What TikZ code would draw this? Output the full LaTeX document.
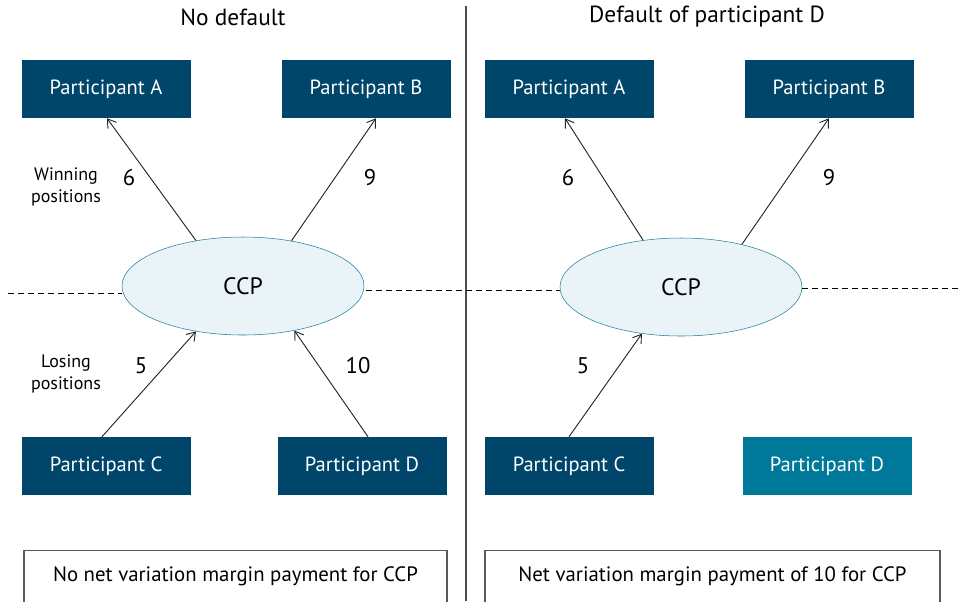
\documentclass[tikz,border=0pt]{standalone}
\usepackage{fontspec}
\setmainfont{PT Sans}
\usetikzlibrary{arrows.meta}
\usetikzlibrary{shapes}

\definecolor{navy}{HTML}{00466B}
\definecolor{teal}{HTML}{00789A}
\definecolor{ccpline}{HTML}{1F7FA0}
\definecolor{ccpfill}{HTML}{EAF3F7}

\tikzset{
    part/.style={rectangle,fill=navy,text=white,minimum width=126.75pt,minimum height=43.5pt,inner sep=0pt,font=\fontsize{15.4}{18}\selectfont},
    ccp/.style={ellipse,draw=ccpline,fill=ccpfill,minimum width=181.5pt,minimum height=73.5pt,inner sep=0pt,font=\fontsize{17.8}{21}\selectfont},
    note/.style={rectangle,draw=black!65,line width=0.8pt,anchor=north,minimum height=60pt,text depth=36pt,inner ysep=12pt,font=\fontsize{15.6}{18}\selectfont},
    num/.style={font=\fontsize{17}{20}\selectfont},
    small/.style={align=center,font=\fontsize{13.5}{16}\selectfont},
    level/.style={black,line width=0.6pt,dash pattern=on 4.5pt off 3pt}
}

\begin{document}
\begin{tikzpicture}[x=0.75pt,y=-0.75pt]
    \clip (0,0) rectangle (962,601);

    % divider and titles
    \draw[black!70,line width=1.1pt] (466,6) -- (466,601);
    \node[font=\fontsize{17.5}{21}\selectfont] (t1) at (233,17) {No default};
    \node[font=\fontsize{17.5}{21}\selectfont] (t2) at (707,17) {Default of participant D};

    % no default
    \node[part] (a) at (106,89) {Participant A};
    \node[part] (b) at (366,89) {Participant B};
    \node[part] (c) at (106,466) {Participant C};
    \node[part] (d) at (362,466) {Participant D};
    \node[ccp] (ccp) at (243,286) {CCP};

    % default of D
    \node[part] (a2) at (569,89) {Participant A};
    \node[part] (b2) at (829,89) {Participant B};
    \node[part] (c2) at (569,466) {Participant C};
    \node[part,fill=teal] (d2) at (827,466) {Participant D};
    \node[ccp] (ccp2) at (681,287) {CCP};

    % dashed level
    \coordinate (l0) at (8,293);
    \coordinate (m0) at (366,290);
    \coordinate (l1) at (962,288);
    \draw[level] (l0) -- (l0 -| ccp.west);
    \draw[level] (m0) -- (m0 -| ccp2.west);
    \draw[level] (l1 -| ccp2.east) -- (l1);

    \begin{scope}[every edge/.style={draw=black!85,line width=0.7pt,-{Straight Barb[length=6pt,width=8pt]}}]
    \path (ccp.136) edge ([xshift=0.75pt]a.south);
    \path (ccp.43) edge ([xshift=7.5pt]b.south);
    \path ([xshift=-3pt]c.north) edge (ccp.224);
    \path ([xshift=4.5pt]d.north) edge (ccp.319);
    \path (ccp2.129) edge ([xshift=-3pt]a2.south);
    \path (ccp2.35) edge (b2.south);
    \path (c2.north) edge (ccp2.230);
    \end{scope}

    % amounts
    \node[num] (n6) at (129,178) {6};
    \node[num] (n9) at (370,178) {9};
    \node[num] (n5) at (141,366) {5};
    \node[num] (n10) at (358,366) {10};
    \node[num] (m6) at (568,178) {6};
    \node[num] (m9) at (829,178) {9};
    \node[num] (m5) at (583,366) {5};
    \node[small] (win) at (66,187) {Winning\\positions};
    \node[small] (lose) at (66,374) {Losing\\positions};

    % result boxes
    \node[note,minimum width=317.25pt] (r1) at (235.5,550) {No net variation margin payment for CCP};
    \node[note,minimum width=341.25pt] (r2) at (712.5,550) {Net variation margin payment of 10 for CCP};
\end{tikzpicture}
\end{document}
